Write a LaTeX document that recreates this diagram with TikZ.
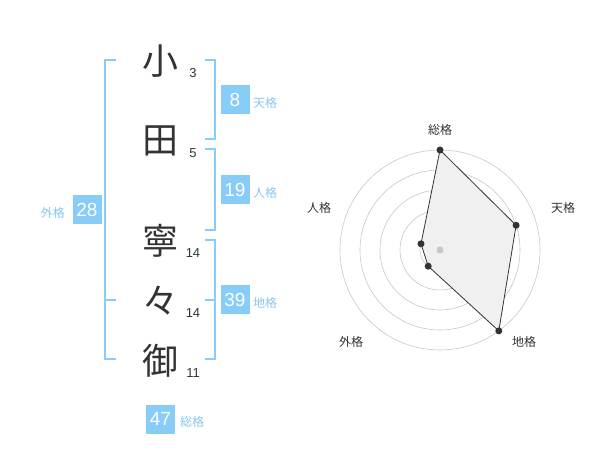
\documentclass[tikz,border=0pt]{standalone}
\usepackage{fontspec}
\setmainfont{Liberation Sans}
\newfontfamily\jp{Noto Sans CJK JP}
\definecolor{kblue}{HTML}{88CCF8}
\definecolor{klabel}{HTML}{88C6EE}
\definecolor{ink}{HTML}{333333}
\begin{document}
\begin{tikzpicture}[x=1pt,y=-1pt,
 bigchar/.style={font=\jp\fontsize{36}{36}\selectfont, text=ink, inner sep=0},
 strokenum/.style={font=\fontsize{13}{13}\selectfont, text=ink, inner sep=0},
 numbox/.style={fill=kblue, text=white, minimum size=29pt, inner sep=0, font=\fontsize{19}{19}\selectfont},
 kaku/.style={font=\jp\fontsize{12}{12}\selectfont, text=klabel, inner sep=0},
 bracket/.style={draw=kblue, line width=2pt},
 ring/.style={draw=black!22, line width=0.6pt},
 radlabel/.style={font=\jp\fontsize{12}{12}\selectfont, text=ink, inner sep=0},
 dot/.style={circle, fill=ink, inner sep=0, minimum size=7pt}]
\path[use as bounding box] (0,0) rectangle (600,470);

% name characters
\node[bigchar] (c1) at (160,61) {小};
\node[bigchar] (c2) at (160,141) {田};
\node[bigchar] (c3) at (160,241) {寧};
\node[bigchar] (c4) at (160,301) {々};
\node[bigchar] (c5) at (160,361) {御};
\node[strokenum] (n1) at (193,73) {3};
\node[strokenum] (n2) at (193,153) {5};
\node[strokenum] (n3) at (193,253) {14};
\node[strokenum] (n4) at (193,313) {14};
\node[strokenum] (n5) at (193,373) {11};

% brackets
\draw[bracket] (116,60) -- (105,60) -- (105,359) -- (116,359);
\draw[bracket] (105,300) -- (116,300);
\draw[bracket] (205,60) -- (215,60) -- (215,139) -- (205,139);
\draw[bracket] (205,149) -- (215,149) -- (215,230) -- (205,230);
\draw[bracket] (205,240) -- (215,240) -- (215,359) -- (205,359);
\draw[bracket] (205,300) -- (215,300);

% boxes and labels
\node[numbox] (ten) at (235,100) {8};
\node[kaku, anchor=west] (tenl) at (253,103) {天格};
\node[numbox] (jin) at (235,190) {19};
\node[kaku, anchor=west] (jinl) at (253,193) {人格};
\node[numbox] (chi) at (235,300) {39};
\node[kaku, anchor=west] (chil) at (253,303) {地格};
\node[numbox] (gai) at (87,210) {28};
\node[kaku, anchor=east] (gail) at (65,213) {外格};
\node[numbox] (sou) at (160.5,419) {47};
\node[kaku, anchor=west] (soul) at (180,422) {総格};

% radar
\coordinate (ctr) at (440,250);
\foreach \r in {20,40,60,80,100} \draw[ring] (ctr) circle[radius=\r];
\coordinate (pS) at (440,150);
\coordinate (pT) at (516.1,225.3);
\coordinate (pC) at (498.8,330.9);
\coordinate (pG) at (428.2,266.2);
\coordinate (pJ) at (421.0,243.8);
\fill[black!6] (pS) -- (pT) -- (pC) -- (pG) -- (pJ) -- cycle;
\draw[ink, line width=0.8pt] (pS) -- (pT) -- (pC) -- (pG) -- (pJ) -- cycle;
\node[circle, fill=black!22, inner sep=0, minimum size=7pt] (cdot) at (ctr) {};
\node[dot] (dS) at (pS) {};
\node[dot] (dT) at (pT) {};
\node[dot] (dC) at (pC) {};
\node[dot] (dG) at (pG) {};
\node[dot] (dJ) at (pJ) {};
\node[radlabel] (lS) at (440,130) {総格};
\node[radlabel] (lT) at (563,208) {天格};
\node[radlabel] (lC) at (524,342) {地格};
\node[radlabel] (lG) at (351,342) {外格};
\node[radlabel] (lJ) at (319,208) {人格};
\end{tikzpicture}
\end{document}
